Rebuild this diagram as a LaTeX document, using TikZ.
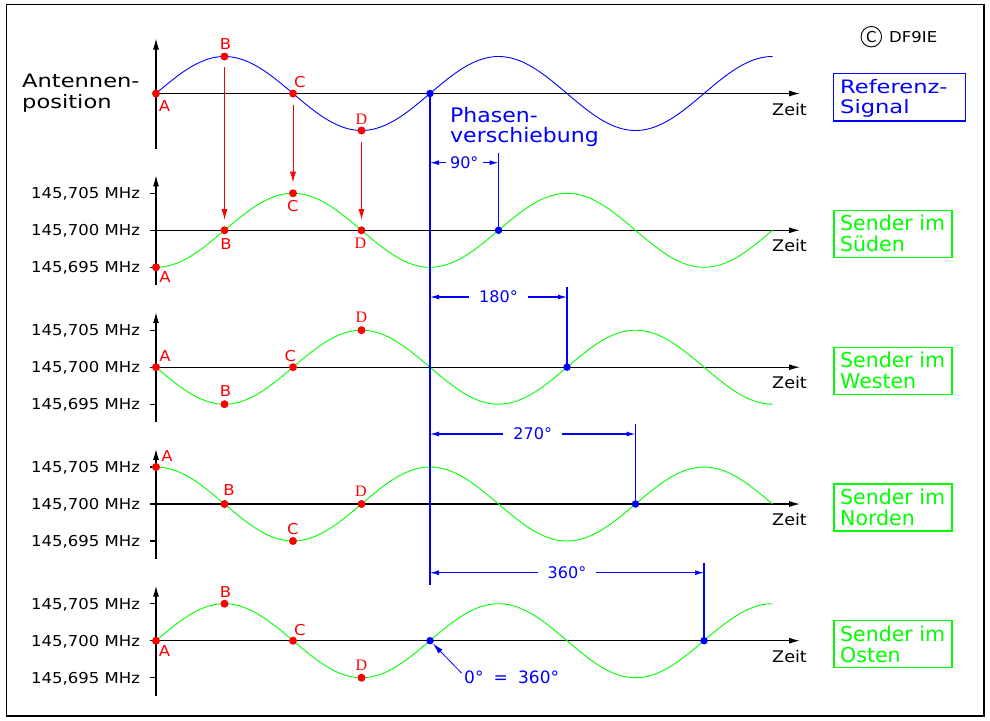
\documentclass[tikz,border=0pt]{standalone}
\usepackage{fontspec}
\setmainfont{DejaVu Sans}[FakeStretch=1.1]
\newfontfamily\widefont{DejaVu Sans}[FakeStretch=1.22]
\newfontfamily\plainfont{DejaVu Sans}
\newfontfamily\serifD{Liberation Serif}
\usetikzlibrary{arrows.meta}
\definecolor{cblue}{RGB}{0,0,255}
\definecolor{cgreen}{RGB}{0,255,0}
\definecolor{cred}{RGB}{255,0,0}
\begin{document}
\begin{tikzpicture}[x=1pt,y=-1pt,
  axisln/.style={black,line width=1.2pt},
  axarrow/.style={-{Latex[length=11pt,width=6pt]}},
  curveb/.style={cblue,line width=0.9pt},
  curveg/.style={cgreen,line width=0.9pt},
  rdot/.style={circle,fill=cred,inner sep=0pt,minimum size=8pt},
  bdot/.style={circle,fill=cblue,inner sep=0pt,minimum size=7.5pt},
  rlbl/.style={text=cred,font=\fontsize{15}{15}\selectfont,inner sep=0pt},
  rlblD/.style={text=cred,font=\serifD\fontsize{16}{16}\selectfont,inner sep=0pt},
  freq/.style={anchor=base west,font=\fontsize{15}{15}\selectfont,inner sep=0pt},
  zeitlbl/.style={anchor=base west,font=\fontsize{16}{16}\selectfont,inner sep=0pt},
  gbox/.style={draw=cgreen,line width=1.2pt,minimum width=118pt,minimum height=47pt,inner sep=0pt},
  bbox/.style={draw=cblue,line width=1.2pt,minimum width=132pt,minimum height=47.5pt,inner sep=0pt},
  gtext/.style={text=cgreen,anchor=base west,font=\plainfont\fontsize{20.5}{20.5}\selectfont,inner sep=0pt},
  btext/.style={text=cblue,anchor=base west,font=\widefont\fontsize{18.5}{18.5}\selectfont,inner sep=0pt},
  blueln/.style={cblue,line width=1.2pt},
  dimarrow/.style={cblue,line width=1.1pt,-{Latex[length=9pt,width=5pt]}},
  dimtext/.style={text=cblue,font=\plainfont\fontsize{16}{16}\selectfont,inner ysep=0pt,inner xsep=10pt},
  redarrow/.style={cred,line width=1pt,-{Latex[length=11pt,width=6pt]}},
  antext/.style={anchor=base west,font=\widefont\fontsize{18.5}{18.5}\selectfont,inner sep=0pt},
  phtext/.style={text=cblue,anchor=base west,font=\fontsize{20}{20}\selectfont,inner sep=0pt}
]
\useasboundingbox (0,0) rectangle (990,720);
\draw[black,line width=1.2pt] (6.5,4.5) rectangle (984,716);

% ---------- axes ----------
\coordinate (xs1) at (156,93.5);
\foreach \r/\b in {2/230.3,3/367.2,4/504,5/640.7}{
  \coordinate (xs\r) at (150,\b);
}
\foreach \r/\b in {1/93.5,2/230.3,3/367.2,4/504,5/640.7}{
  \coordinate (yb\r) at (156,\b+55);
  \coordinate (yt\r) at (156,\b-55);
  \coordinate (xe\r) at (800,\b);
  \draw[axisln,axarrow] (yb\r) -- (yt\r);
  \draw[axisln,axarrow] (xs\r) -- (xe\r);
  \node[zeitlbl] (zeit\r) at (772,\b+21.5) {Zeit};
}
\foreach \r/\b in {2/230.3,3/367.2,4/504,5/640.7}{
  \coordinate (tu\r) at (150,\b-37);
  \coordinate (tuE\r) at (156,\b-37);
  \coordinate (tl\r) at (150,\b+37);
  \coordinate (tlE\r) at (156,\b+37);
  \draw[axisln] (tu\r) -- (tuE\r);
  \draw[axisln] (tl\r) -- (tlE\r);
  \node[freq] (fu\r) at (31,\b-37+5.5) {145,705 MHz};
  \node[freq] (fm\r) at (31,\b+5.5) {145,700 MHz};
  \node[freq] (fl\r) at (31,\b+37+5.5) {145,695 MHz};
}

% ---------- curves ----------
\draw[curveb] plot[domain=0:810,samples=200] ({156+\x/90*68.5},{93.5-37*sin(\x)});
\draw[curveg] plot[domain=0:810,samples=200] ({156+\x/90*68.5},{230.3+37*cos(\x)});
\draw[curveg] plot[domain=0:810,samples=200] ({156+\x/90*68.5},{367.2+37*sin(\x)});
\draw[curveg] plot[domain=0:810,samples=200] ({156+\x/90*68.5},{504-37*cos(\x)});
\draw[curveg] plot[domain=0:810,samples=200] ({156+\x/90*68.5},{640.7-37*sin(\x)});

% ---------- blue phase lines ----------
\node[bdot] (Q1) at (430,93.5) {};
\node[bdot] (Q2) at (498.5,230.3) {};
\node[bdot] (Q3) at (567,367.2) {};
\node[bdot] (Q4) at (635.5,504) {};
\node[bdot] (Q5) at (430,640.7) {};
\node[bdot] (Q6) at (704,640.7) {};
\coordinate (blend) at (430,585);
\draw[blueln] (Q1.center) -- (blend);

\coordinate (e90) at (498.5,152.7);
\coordinate (e180) at (567,287);
\coordinate (e270) at (635.5,424);
\coordinate (e360) at (704,562.7);
\draw[blueln] (e90) -- (Q2.center);
\draw[blueln] (e180) -- (Q3.center);
\draw[blueln] (e270) -- (Q4.center);
\draw[blueln] (e360) -- (Q6.center);

\node[dimtext,inner xsep=4pt] (d90) at (464.25,162.7) {90°};
\coordinate (d90L) at (430,162.7); \coordinate (d90R) at (498.5,162.7);
\draw[dimarrow] (d90.west) -- (d90L);
\draw[dimarrow] (d90.east) -- (d90R);

\node[dimtext] (d180) at (498.5,297) {180°};
\coordinate (d180L) at (430,297); \coordinate (d180R) at (567,297);
\draw[dimarrow] (d180.west) -- (d180L);
\draw[dimarrow] (d180.east) -- (d180R);

\node[dimtext] (d270) at (532.75,434) {270°};
\coordinate (d270L) at (430,434); \coordinate (d270R) at (635.5,434);
\draw[dimarrow] (d270.west) -- (d270L);
\draw[dimarrow] (d270.east) -- (d270R);

\node[dimtext] (d360) at (567,572.7) {360°};
\coordinate (d360L) at (430,572.7); \coordinate (d360R) at (704,572.7);
\draw[dimarrow] (d360.west) -- (d360L);
\draw[dimarrow] (d360.east) -- (d360R);

% 0 = 360 note
\node[text=cblue,anchor=west,inner sep=0pt,font=\plainfont\fontsize{17}{17}\selectfont] (zero) at (464,677) {0°\hspace{0.6em}=\hspace{0.6em}360°};
\coordinate (zs) at (461.5,673);
\draw[cblue,line width=0.8pt,-{Latex[length=11pt,width=5.5pt]}] (zs) -- (Q5);

% ---------- red arrows ----------
\coordinate (rsB) at (224.5,66.7); \coordinate (rtB) at (224.5,220);
\coordinate (rsC) at (293,105);   \coordinate (rtC) at (293,182.7);
\coordinate (rsD) at (361.5,141.7); \coordinate (rtD) at (361.5,220);
\draw[redarrow] (rsB) -- (rtB);
\draw[redarrow] (rsC) -- (rtC);
\draw[redarrow] (rsD) -- (rtD);

% ---------- red points ----------
% row 1
\node[rdot] (A1) at (156,93.5) {};
\node[rdot] (B1) at (224.5,56.5) {};
\node[rdot] (C1) at (293,93.5) {};
\node[rdot] (D1) at (361.5,130.5) {};
\node[rlbl] (lA1) at (164.5,106.5) {A};
\node[rlbl] (lB1) at (225.5,44) {B};
\node[rlbl] (lC1) at (300,82) {C};
\node[rlblD] (lD1) at (361.5,119) {D};
% row 2
\node[rdot] (A2) at (156,267.3) {};
\node[rdot] (B2) at (224.5,230.3) {};
\node[rdot] (C2) at (293,193.3) {};
\node[rdot] (D2) at (361.5,230.3) {};
\node[rlbl] (lA2) at (165,277) {A};
\node[rlbl] (lB2) at (226,244) {B};
\node[rlbl] (lC2) at (293,206) {C};
\node[rlblD] (lD2) at (360.5,243.5) {D};
% row 3
\node[rdot] (A3) at (156,367.2) {};
\node[rdot] (B3) at (224.5,404.2) {};
\node[rdot] (C3) at (293,367.2) {};
\node[rdot] (D3) at (361.5,330.2) {};
\node[rlbl] (lA3) at (165,356) {A};
\node[rlbl] (lB3) at (225.5,391.5) {B};
\node[rlbl] (lC3) at (290.5,356) {C};
\node[rlblD] (lD3) at (361.5,317.5) {D};
% row 4
\node[rdot] (A4) at (156,467) {};
\node[rdot] (B4) at (224.5,504) {};
\node[rdot] (C4) at (293,541) {};
\node[rdot] (D4) at (361.5,504) {};
\node[rlbl] (lA4) at (167,456) {A};
\node[rlbl] (lB4) at (229,490.5) {B};
\node[rlbl] (lC4) at (293,529) {C};
\node[rlblD] (lD4) at (361,491) {D};
% row 5
\node[rdot] (A5) at (156,640.7) {};
\node[rdot] (B5) at (224.5,603.7) {};
\node[rdot] (C5) at (293,640.7) {};
\node[rdot] (D5) at (361.5,677.7) {};
\node[rlbl] (lA5) at (164.5,651.5) {A};
\node[rlbl] (lB5) at (225.5,592.5) {B};
\node[rlbl] (lC5) at (300,630.5) {C};
\node[rlblD] (lD5) at (361.5,665) {D};

% ---------- texts ----------
\node[antext] (ant1) at (22,87.7) {Antennen-};
\node[antext] (ant2) at (22,108) {position};

\node[phtext] (ph1) at (450,122) {Phasen-};
\node[phtext] (ph2) at (450,142) {verschiebung};

\node[draw,circle,line width=0.9pt,minimum size=20.5pt,inner sep=0pt,font=\plainfont\fontsize{15}{15}\selectfont] (cc) at (871.3,36.7) {C};
\node[anchor=base west,inner sep=0pt,font=\fontsize{15}{15}\selectfont] (df) at (889,42.7) {DF9IE};

% ---------- boxes ----------
\node[bbox] (ref) at (899.8,97.2) {};
\node[btext] (ref1) at (840,93) {Referenz-};
\node[btext] (ref2) at (840,113.3) {Signal};

\node[gbox] (sued) at (893,233.8) {};
\node[gtext] (sued1) at (840,230.8) {Sender im};
\node[gtext] (sued2) at (840,251.8) {Süden};

\node[gbox] (west) at (893,370.7) {};
\node[gtext] (west1) at (840,367.7) {Sender im};
\node[gtext] (west2) at (840,388.7) {Westen};

\node[gbox] (nord) at (893,507.5) {};
\node[gtext] (nord1) at (840,504.5) {Sender im};
\node[gtext] (nord2) at (840,525.5) {Norden};

\node[gbox] (ost) at (893,644.2) {};
\node[gtext] (ost1) at (840,641.2) {Sender im};
\node[gtext] (ost2) at (840,662.2) {Osten};
\end{tikzpicture}
\end{document}
